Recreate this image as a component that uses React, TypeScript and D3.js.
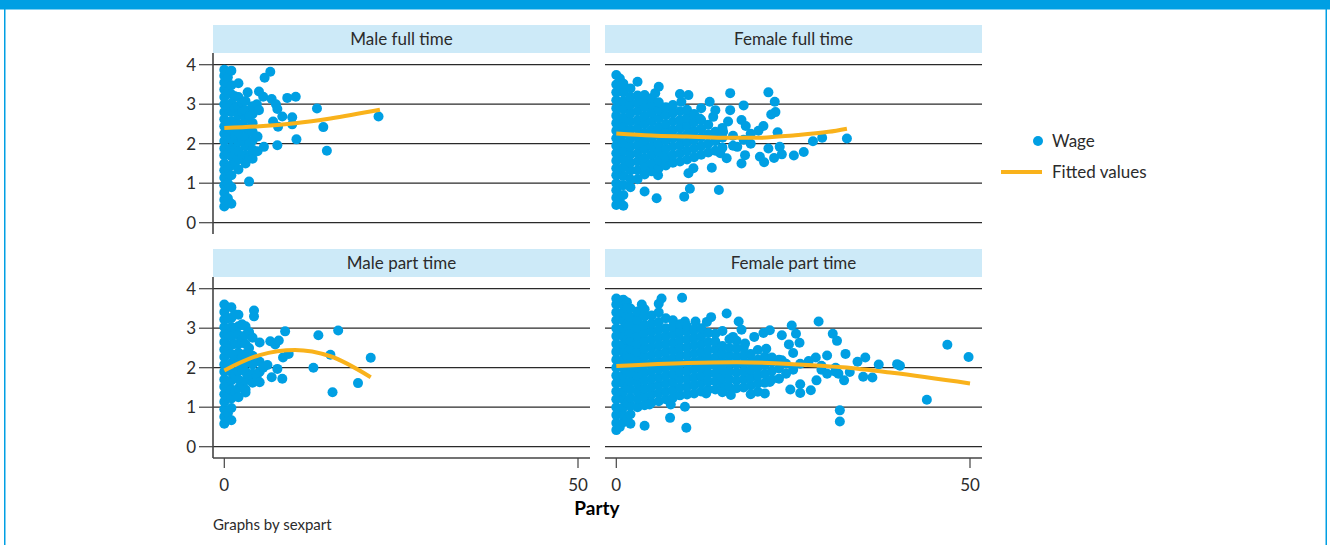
import React from 'react';
import * as d3 from 'd3';

const panelTitles = ['Male full time', 'Female full time', 'Male part time', 'Female part time'];
const wageTicks = [0, 1, 2, 3, 4];
const partyTicks = [0, 50];
const legendLabels = ['Wage', 'Fitted values'];
const xAxisTitle = 'Party';
const noteText = 'Graphs by sexpart';

// each entry: [party, wages observed at that party value]
const maleFullTime: [number, number[]][] = [
  [0, [0.41, 0.58, 0.76, 0.95, 1.14, 1.33, 1.5, 1.7, 1.88, 2.07, 2.25, 2.44, 2.62, 2.8, 3.0, 3.18, 3.37, 3.55, 3.72, 3.87]],
  [0.5, [0.62, 1.0, 1.38, 1.76, 2.15, 2.53, 2.9, 3.3, 3.68]],
  [1, [0.48, 0.9, 1.2, 1.45, 1.68, 1.9, 2.12, 2.35, 2.57, 2.8, 3.02, 3.25, 3.48, 3.85]],
  [1.5, [1.5, 1.85, 2.2, 2.55, 2.9, 3.2]],
  [2, [1.35, 1.6, 1.82, 2.05, 2.28, 2.5, 2.72, 2.95, 3.18, 3.53]],
  [2.5, [1.7, 2.1, 2.45, 2.8, 3.05]],
  [3, [1.5, 1.72, 1.95, 2.18, 2.4, 2.62, 2.85, 3.08]],
  [3.3, [3.3]],
  [3.5, [1.04, 1.65, 2.0, 2.35, 2.7]],
  [4, [1.62, 1.85, 2.08, 2.3, 2.52, 2.75, 2.95]],
  [4.6, [3.0]],
  [4.7, [1.81, 2.18]],
  [4.9, [3.32, 2.85]],
  [5.5, [3.19]],
  [5.6, [1.92]],
  [5.7, [3.67]],
  [6.5, [3.82]],
  [6.7, [3.13]],
  [6.9, [2.56]],
  [7.3, [3.0]],
  [7.5, [2.88, 1.96]],
  [7.6, [2.43]],
  [8.2, [2.69]],
  [8.9, [3.16]],
  [9.6, [2.67, 2.49]],
  [10.1, [3.19]],
  [10.2, [2.11]],
  [13.1, [2.89]],
  [14.0, [2.42]],
  [14.5, [1.82]],
  [21.8, [2.69]],
];
const maleFullFitParty = [0, 5, 10, 15, 22];
const maleFullFitWage = [2.4, 2.44, 2.52, 2.64, 2.86];

const femaleFullTime: [number, number[]][] = [
  [0, [0.45, 0.63, 0.82, 1.0, 1.2, 1.38, 1.57, 1.76, 1.95, 2.14, 2.33, 2.52, 2.71, 2.9, 3.1, 3.3, 3.5, 3.74]],
  [0.5, [0.55, 0.95, 1.35, 1.75, 2.15, 2.55, 2.95, 3.35, 3.65]],
  [1, [0.43, 0.7, 0.95, 1.18, 1.4, 1.6, 1.82, 2.02, 2.24, 2.45, 2.66, 2.88, 3.08, 3.3, 3.52]],
  [2, [0.9, 1.1, 1.32, 1.52, 1.73, 1.93, 2.14, 2.35, 2.56, 2.77, 2.98, 3.18, 3.4]],
  [3, [1.1, 1.33, 1.55, 1.76, 1.97, 2.18, 2.4, 2.6, 2.82, 3.03, 3.22, 3.57]],
  [4, [0.79, 1.22, 1.43, 1.64, 1.86, 2.07, 2.28, 2.5, 2.7, 2.92, 3.12, 3.23]],
  [5, [1.3, 1.5, 1.72, 1.93, 2.14, 2.35, 2.56, 2.78, 2.98, 3.15]],
  [5.5, [3.28]],
  [5.7, [0.62]],
  [5.9, [1.2]],
  [6, [1.38, 1.58, 1.8, 2.0, 2.22, 2.42, 2.64, 2.85, 3.05, 3.44]],
  [7, [1.61, 1.45, 1.66, 1.87, 2.08, 2.3, 2.5, 2.72, 2.92]],
  [8, [1.52, 1.72, 1.93, 2.14, 2.35, 2.56, 2.78, 2.98]],
  [9, [1.55, 1.76, 1.97, 2.18, 2.4, 2.6, 2.82, 3.26]],
  [9.2, [3.06]],
  [9.6, [0.66]],
  [10, [1.6, 1.82, 2.03, 2.24, 2.45, 2.66, 2.86]],
  [10.2, [3.23, 1.25]],
  [10.4, [0.86]],
  [10.9, [1.38]],
  [11, [1.66, 1.88, 2.1, 2.32, 2.54, 2.75]],
  [11.8, [2.64]],
  [12, [1.72, 1.94, 2.16, 2.38, 2.6, 2.9]],
  [13, [1.78, 2.0, 2.24, 2.48]],
  [13.2, [3.06]],
  [13.5, [1.39]],
  [13.7, [2.68]],
  [14, [1.82, 2.06, 2.3, 2.85]],
  [14.5, [0.83]],
  [14.7, [1.76]],
  [15, [1.9, 2.15, 2.4]],
  [15.1, [2.3]],
  [15.6, [1.63]],
  [15.8, [2.56]],
  [16.1, [3.28, 2.85]],
  [16.5, [1.95, 2.2]],
  [17.1, [1.92]],
  [17.7, [2.6, 1.5]],
  [18, [2.97, 2.1]],
  [18.2, [1.71]],
  [18.3, [2.45]],
  [19, [2.0, 2.25]],
  [20.1, [2.33]],
  [20.3, [1.67]],
  [20.8, [2.45]],
  [20.9, [1.53]],
  [21.5, [3.3, 1.88]],
  [21.9, [2.74]],
  [22.3, [1.64]],
  [22.4, [3.06]],
  [22.5, [2.8]],
  [22.8, [2.29]],
  [23.1, [1.92]],
  [23.4, [1.73]],
  [25.1, [1.7]],
  [26.5, [1.79]],
  [27.8, [2.06]],
  [29.1, [2.15]],
  [32.6, [2.13]],
];
const femaleFullFitParty = [0, 5, 10, 15, 20, 25, 30, 32.6];
const femaleFullFitWage = [2.26, 2.21, 2.18, 2.15, 2.15, 2.21, 2.3, 2.38];

const malePartTime: [number, number[]][] = [
  [0, [0.58, 0.76, 0.95, 1.14, 1.33, 1.52, 1.7, 1.9, 2.08, 2.27, 2.46, 2.65, 2.84, 3.03, 3.22, 3.41, 3.6]],
  [0.5, [0.85, 1.25, 1.65, 2.05, 2.45, 2.85, 3.25]],
  [1, [0.67, 0.98, 1.22, 1.45, 1.68, 1.9, 2.12, 2.35, 2.58, 2.8, 3.03, 3.26, 3.53]],
  [1.5, [1.4, 1.8, 2.2, 2.6, 3.0, 3.35]],
  [2, [1.25, 1.48, 1.7, 1.92, 2.15, 2.38, 2.6, 2.83, 3.05, 3.34]],
  [2.5, [1.55, 1.95, 2.3, 2.7, 3.1]],
  [3, [1.37, 1.45, 1.68, 1.9, 2.12, 2.35, 2.6, 2.82, 3.05]],
  [3.5, [1.8, 2.15, 2.5, 2.9]],
  [4, [1.62, 1.85, 2.08, 2.3, 2.76]],
  [4.2, [3.3, 3.45]],
  [4.6, [1.8]],
  [5, [1.63, 1.9, 2.15, 2.64]],
  [5.5, [2.0]],
  [6.1, [2.07]],
  [6.5, [2.67]],
  [6.7, [1.76]],
  [7.2, [2.59]],
  [7.5, [1.97]],
  [7.7, [2.69]],
  [8.2, [1.72]],
  [8.3, [2.26]],
  [8.6, [2.92]],
  [9.1, [2.35]],
  [12.6, [2.0]],
  [13.3, [2.82]],
  [15, [2.33]],
  [15.3, [1.38]],
  [16.1, [2.94]],
  [18.9, [1.61]],
  [20.7, [2.25]],
];
const malePartFitParty = [0, 5, 10, 15, 20.7];
const malePartFitWage = [1.93, 2.32, 2.45, 2.29, 1.76];

const femalePartTime: [number, number[]][] = [
  [0, [0.42, 0.6, 0.8, 1.0, 1.2, 1.4, 1.6, 1.8, 2.0, 2.2, 2.4, 2.6, 2.8, 3.0, 3.2, 3.4, 3.6, 3.75]],
  [0.5, [0.5, 0.9, 1.3, 1.7, 2.1, 2.5, 2.9, 3.3, 3.7]],
  [1, [0.62, 0.8, 1.0, 1.2, 1.4, 1.6, 1.8, 2.0, 2.2, 2.4, 2.6, 2.8, 3.0, 3.2, 3.4, 3.58, 3.72]],
  [1.5, [3.66, 0.7, 1.1, 1.5, 1.9, 2.3, 2.7, 3.1, 3.5]],
  [2, [0.58, 0.82, 1.04, 1.24, 1.45, 1.66, 1.86, 2.06, 2.27, 2.48, 2.68, 2.88, 3.08, 3.28, 3.5]],
  [3, [1.0, 1.2, 1.4, 1.6, 1.8, 2.0, 2.2, 2.4, 2.6, 2.8, 3.0, 3.2, 3.42]],
  [3.6, [3.6]],
  [4, [0.53, 1.05, 1.26, 1.47, 1.68, 1.88, 2.08, 2.28, 2.48, 2.68, 2.88, 3.08, 3.3, 3.48]],
  [4.7, [1.07]],
  [5, [1.12, 1.32, 1.52, 1.72, 1.92, 2.12, 2.32, 2.52, 2.72, 2.92, 3.12, 3.32]],
  [6, [1.15, 1.36, 1.56, 1.76, 1.96, 2.16, 2.36, 2.56, 2.76, 2.96, 3.16, 3.4, 3.62]],
  [6.4, [3.75]],
  [7, [1.2, 1.4, 1.6, 1.8, 2.0, 2.2, 2.4, 2.6, 2.8, 3.0, 3.25]],
  [7.6, [0.73]],
  [7.7, [1.07]],
  [8, [1.24, 1.44, 1.64, 1.84, 2.04, 2.24, 2.44, 2.64, 2.84, 3.04, 3.2]],
  [9, [1.3, 1.5, 1.7, 1.9, 2.1, 2.3, 2.5, 2.7, 2.9, 3.1]],
  [9.3, [3.77]],
  [9.7, [3.17, 1.01]],
  [9.9, [0.48]],
  [10, [1.32, 1.52, 1.72, 1.92, 2.12, 2.32, 2.52, 2.72, 2.92, 3.05]],
  [11, [1.35, 1.56, 1.76, 1.96, 2.16, 2.36, 2.56, 2.76, 2.96]],
  [11.2, [3.17]],
  [12, [1.4, 1.6, 1.8, 2.0, 2.2, 2.4, 2.6, 2.8, 3.0]],
  [12.7, [1.35]],
  [12.8, [3.16]],
  [13, [1.45, 1.65, 1.85, 2.05, 2.25, 2.45, 2.65, 2.88]],
  [13.4, [3.28]],
  [14, [1.45, 1.66, 1.86, 2.06, 2.26, 2.46, 2.66, 2.86]],
  [15, [1.38, 1.55, 1.75, 1.95, 2.15, 2.35, 2.55, 2.93]],
  [15.4, [1.51]],
  [15.6, [3.37]],
  [16, [1.5, 1.7, 1.9, 2.1, 2.3, 2.5, 2.72]],
  [16.2, [1.31]],
  [16.5, [2.78]],
  [17, [1.48, 1.68, 1.88, 2.08, 2.28, 2.48, 2.68]],
  [17.3, [3.17]],
  [17.7, [2.96]],
  [18, [1.5, 1.7, 1.9, 2.1, 2.3, 2.5]],
  [18.2, [2.61]],
  [19, [1.33, 1.55, 1.75, 1.95, 2.15, 2.35]],
  [19.5, [2.78]],
  [20, [1.39, 1.6, 1.8, 2.0, 2.2, 2.45]],
  [20.8, [2.88]],
  [21, [1.35, 1.62, 1.84, 2.06, 2.28]],
  [21.2, [2.48]],
  [21.7, [2.95, 1.64]],
  [22, [1.7, 1.92, 2.15, 2.26]],
  [23, [1.72, 1.98, 2.2]],
  [23.4, [2.82, 2.19]],
  [24, [1.85, 2.1]],
  [24.4, [2.59]],
  [24.6, [1.45]],
  [24.8, [3.07]],
  [25, [2.37, 1.95]],
  [25.4, [2.86]],
  [25.9, [2.63]],
  [26, [1.58, 1.36, 2.1]],
  [27.2, [2.17]],
  [27.5, [1.43]],
  [28.2, [2.26]],
  [28.3, [1.68]],
  [28.6, [3.17]],
  [29, [1.95, 2.05]],
  [29.8, [1.85, 2.31]],
  [30.6, [2.86]],
  [31, [2.0, 1.9]],
  [31.2, [2.68]],
  [31.4, [1.85]],
  [31.6, [0.92, 0.64]],
  [32.2, [1.68]],
  [32.4, [2.35]],
  [33, [1.89]],
  [34.1, [2.15]],
  [34.9, [1.77]],
  [35.2, [2.26]],
  [36.2, [1.75]],
  [37.1, [2.08]],
  [39.7, [2.09]],
  [40.1, [2.05]],
  [43.9, [1.19]],
  [46.8, [2.58]],
  [49.8, [2.27]],
];
const femalePartFitParty = [0, 10, 17, 25, 32, 39, 50];
const femalePartFitWage = [2.04, 2.12, 2.14, 2.09, 2.01, 1.87, 1.6];

const BLUE = '#009fe3';
const FIT = '#f9b21b';
const STRIP = '#cdeaf8';
const INK = '#2b2b2b';
const FONT = "Lato, 'Open Sans', sans-serif";

const colX = [213, 605];
const rowY = [25, 249];
const PLOT_W = 377;
const STRIP_H = 28;

const panels = [
  { title: panelTitles[0], data: maleFullTime, fitP: maleFullFitParty, fitW: maleFullFitWage, col: 0, row: 0 },
  { title: panelTitles[1], data: femaleFullTime, fitP: femaleFullFitParty, fitW: femaleFullFitWage, col: 1, row: 0 },
  { title: panelTitles[2], data: malePartTime, fitP: malePartFitParty, fitW: malePartFitWage, col: 0, row: 1 },
  { title: panelTitles[3], data: femalePartTime, fitP: femalePartFitParty, fitW: femalePartFitWage, col: 1, row: 1 },
];

function Panel({ p }: { p: typeof panels[number] }) {
  const left = colX[p.col];
  const top = rowY[p.row];
  const x = d3.scaleLinear().domain([0, 50]).range([left + 11.3, left + 365]);
  const y = d3.scaleLinear().domain([0, 4]).range([top + 197.7, top + 39.7]);
  const axisEnd = top + 209;
  const pts = p.data.flatMap(([party, ws]) => ws.map((w) => [party, w] as [number, number]));
  const fitPath = d3.line<number>()
    .x((d, i) => x(p.fitP[i]))
    .y((d) => y(d))
    .curve(d3.curveMonotoneX)(p.fitW);

  return (
    <g>
      <rect x={left} y={top} width={PLOT_W} height={STRIP_H} fill={STRIP} />
      <text x={left + PLOT_W / 2} y={top + STRIP_H / 2} dy="0.35em" textAnchor="middle"
        fontSize={17} fill={INK}>{p.title}</text>
      {wageTicks.map((t) => (
        <line key={t} x1={left} x2={left + PLOT_W} y1={y(t)} y2={y(t)} stroke="#2a2a2a" strokeWidth={1.2} />
      ))}
      {p.col === 0 && (
        <g>
          <line x1={left} x2={left} y1={top + STRIP_H} y2={axisEnd} stroke="#444" strokeWidth={1.6} />
          {wageTicks.map((t) => (
            <g key={t}>
              <line x1={left - 14} x2={left} y1={y(t)} y2={y(t)} stroke="#444" strokeWidth={1.2} />
              <text x={left - 17} y={y(t)} dy="0.36em" textAnchor="end" fontSize={17} fill={INK}>{t}</text>
            </g>
          ))}
        </g>
      )}
      {p.row === 1 && (
        <g>
          <line x1={left} x2={left + PLOT_W} y1={axisEnd} y2={axisEnd} stroke="#444" strokeWidth={1.6} />
          {partyTicks.map((t) => (
            <g key={t}>
              <line x1={x(t)} x2={x(t)} y1={axisEnd} y2={axisEnd + 10} stroke="#444" strokeWidth={1.2} />
              <text x={x(t)} y={axisEnd + 27} dy="0.35em" textAnchor="middle" fontSize={17} fill={INK}>{t}</text>
            </g>
          ))}
        </g>
      )}
      {pts.map(([px, py], i) => (
        <circle key={i} cx={x(px)} cy={y(py)} r={5} fill={BLUE} />
      ))}
      <path d={fitPath ?? ''} fill="none" stroke={FIT} strokeWidth={4} />
    </g>
  );
}

export default function App() {
  return (
    <svg width={1330} height={545} style={{ position: 'absolute', left: 0, top: 0, background: '#fff' }}
      fontFamily={FONT}>
      <rect x={0} y={0} width={1330} height={9.5} fill={BLUE} />
      <rect x={4} y={0} width={1.5} height={545} fill={BLUE} />
      <rect x={1325.5} y={0} width={1.5} height={545} fill={BLUE} />
      {panels.map((p) => <Panel key={p.title} p={p} />)}
      <circle cx={1038} cy={141} r={5} fill={BLUE} />
      <text x={1052} y={141} dy="0.35em" fontSize={17} fill={INK}>{legendLabels[0]}</text>
      <line x1={1001} x2={1042} y1={172} y2={172} stroke={FIT} strokeWidth={4} />
      <text x={1052} y={172} dy="0.35em" fontSize={17} fill={INK}>{legendLabels[1]}</text>
      <text x={597} y={508} dy="0.35em" textAnchor="middle" fontSize={19} fontWeight={700} fill="#000">{xAxisTitle}</text>
      <text x={213} y={525} dy="0.35em" fontSize={15} fill={INK}>{noteText}</text>
    </svg>
  );
}
